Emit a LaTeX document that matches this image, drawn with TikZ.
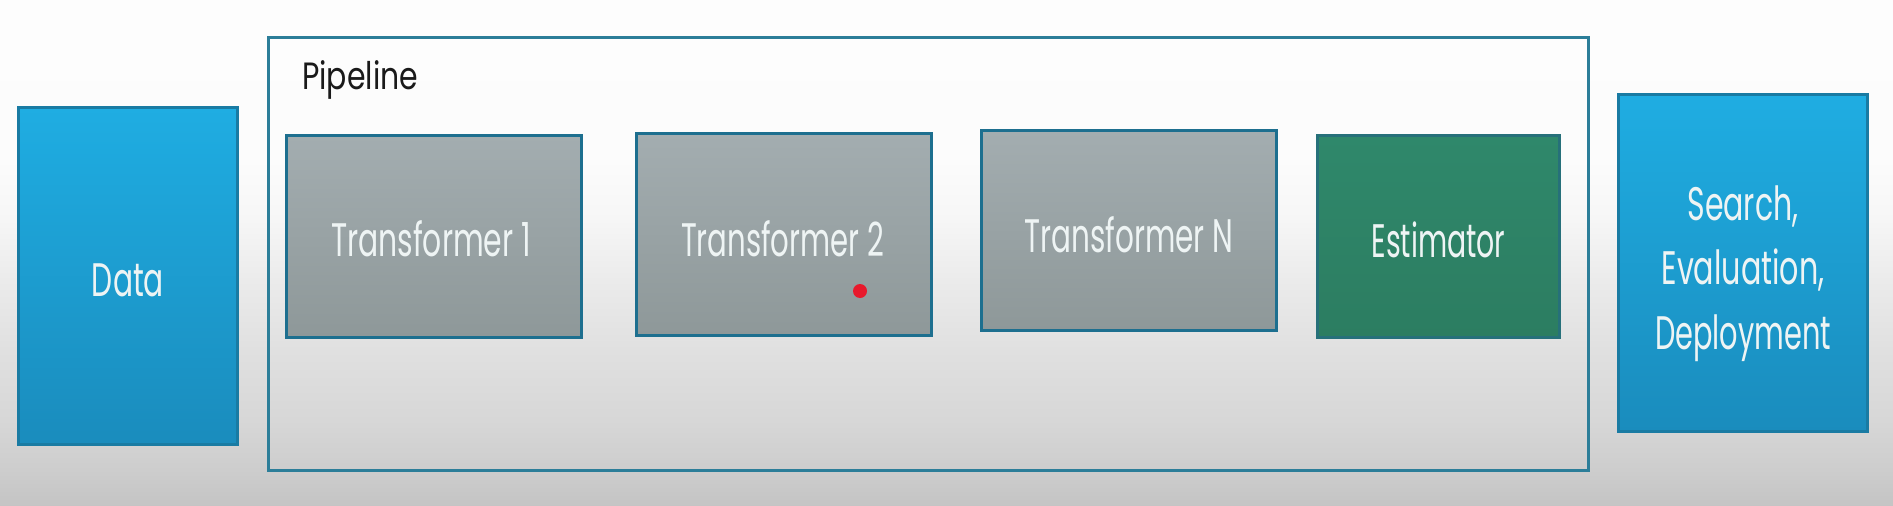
\documentclass[tikz,border=0pt]{standalone}
\usepackage{fontspec}
\usepackage{graphicx}
\newfontfamily\pop{Poppins}
\definecolor{bgA}{HTML}{C4C4C4}
\definecolor{bgB}{HTML}{CDCDCD}
\definecolor{bgC}{HTML}{D7D7D7}
\definecolor{bgD}{HTML}{E0E0E0}
\definecolor{bgE}{HTML}{EBEBEB}
\definecolor{bgF}{HTML}{F6F6F6}
\definecolor{bgG}{HTML}{FCFCFC}
\definecolor{bgH}{HTML}{FDFDFD}
\definecolor{blueT}{HTML}{1FADE2}
\definecolor{blueB}{HTML}{1A8CBD}
\definecolor{bluebd}{HTML}{197BA3}
\definecolor{grayT}{HTML}{A3ADB0}
\definecolor{grayB}{HTML}{8E9899}
\definecolor{graybd}{HTML}{1D6F8F}
\definecolor{greenT}{HTML}{2F886B}
\definecolor{greenB}{HTML}{2C7D61}
\definecolor{greenbd}{HTML}{26707A}
\definecolor{pipebd}{HTML}{2C7E99}
\definecolor{lbltext}{HTML}{EEF4F4}
\definecolor{pipetext}{HTML}{1A1A1A}
\definecolor{dotred}{HTML}{E8192C}
\pgfdeclareverticalshading{bgshade}{100bp}{color(0bp)=(bgA); color(25bp)=(bgA); color(28.6bp)=(bgB); color(33.5bp)=(bgC); color(40.4bp)=(bgD); color(47.3bp)=(bgE); color(53.3bp)=(bgF); color(59.2bp)=(bgG); color(75bp)=(bgH); color(100bp)=(bgH)}
\newcommand\fitw[2]{\resizebox{#1}{\height}{#2}}
\begin{document}
\begin{tikzpicture}[x=1pt,y=-1pt,
  box/.style={draw, line width=3pt, inner sep=0pt, outer sep=0pt},
  bluebox/.style={box, draw=bluebd, top color=blueT, bottom color=blueB},
  graybox/.style={box, draw=graybd, top color=grayT, bottom color=grayB},
  greenbox/.style={box, draw=greenbd, top color=greenT, bottom color=greenB},
  lbl/.style={text=lbltext, font=\pop\fontsize{47}{64.5}\selectfont, inner sep=0pt},
  pipebox/.style={draw=pipebd, line width=3pt, inner sep=0pt, outer sep=0pt}
]
\useasboundingbox (0,0) rectangle (1893,506);
\shade[shading=bgshade] (0,0) rectangle (1893,506);

\node[pipebox, minimum width=1320pt, minimum height=433pt] (pipe) at (928.5,254) {};
\node[anchor=base west, inner sep=0pt, text=pipetext, font=\pop\fontsize{38}{40}\selectfont] (pipelabel) at (302,89) {\fitw{116pt}{Pipeline}};

\node[bluebox, minimum width=219pt, minimum height=337pt,
  label={[lbl,yshift=-4pt]center:{\fitw{72pt}{Data}}}] (data) at (128,276) {};
\node[graybox, minimum width=295pt, minimum height=202pt,
  label={[lbl,yshift=-2.5pt,xshift=-3pt]center:{\fitw{200pt}{Transformer 1}}}] (t1) at (434,236.5) {};
\node[graybox, minimum width=295pt, minimum height=202pt,
  label={[lbl,yshift=-4.5pt,xshift=-1.5pt]center:{\fitw{203pt}{Transformer 2}}}] (t2) at (784,234.5) {};
\node[graybox, minimum width=295pt, minimum height=200pt,
  label={[lbl,yshift=-4.5pt]center:{\fitw{209pt}{Transformer N}}}] (tn) at (1129,230.5) {};
\node[greenbox, minimum width=242pt, minimum height=202pt,
  label={[lbl,yshift=-3.5pt]center:{\fitw{134pt}{Estimator}}}] (est) at (1438.5,236.5) {};
\node[bluebox, minimum width=249pt, minimum height=337pt,
  label={[lbl,align=center,yshift=-10.5pt]center:{\fitw{111pt}{Search,}\\\fitw{163pt}{Evaluation,}\\\fitw{176pt}{Deployment}}}] (search) at (1743,263) {};

\node[circle, fill=dotred, inner sep=0pt, minimum size=14pt] (dot) at (860,291) {};
\end{tikzpicture}
\end{document}
